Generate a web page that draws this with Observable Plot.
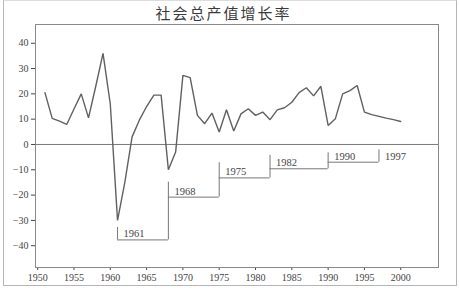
<!DOCTYPE html>
<html><head><meta charset="utf-8">
<script src="https://cdn.jsdelivr.net/npm/d3@7"></script>
<script src="https://cdn.jsdelivr.net/npm/@observablehq/plot@0.6"></script>
<style>
body{margin:0;background:#fff;}
#fig{position:relative;width:459px;height:290px;overflow:hidden;background:#fff;}
#border{position:absolute;left:3px;top:0px;width:454px;height:286px;border:1px solid #b5b5b5;border-top-color:#ddd;box-sizing:border-box;pointer-events:none;}
#title{height:22px;padding-top:4px;padding-right:12px;box-sizing:border-box;text-align:center;font:400 15px "Noto Sans CJK SC";line-height:18px;letter-spacing:2px;color:#3a3a3a;}
#chart svg{display:block;}
</style></head>
<body><div id="fig"><div id="title">社会总产值增长率</div><div id="chart"></div><div id="border"></div></div>
<script>
// Annual growth rate of total social product (%)
const years = [1951,1952,1953,1954,1955,1956,1957,1958,1959,1960,
  1961,1962,1963,1964,1965,1966,1967,1968,1969,1970,
  1971,1972,1973,1974,1975,1976,1977,1978,1979,1980,
  1981,1982,1983,1984,1985,1986,1987,1988,1989,1990,
  1991,1992,1993,1994,1995,1996,1997,1998,1999,2000];
const growth = [20.5,10.3,9.2,7.9,14,20,10.5,23,36,16,
  -30,-15,3,9.6,15,19.5,19.5,-10,-3,27.3,
  26.4,11.5,8.2,12.4,4.9,13.7,5.3,12.1,14.1,11.5,
  12.8,9.8,13.7,14.5,16.7,20.5,22.4,19.2,23,7.5,
  10.2,20,21.3,23.3,12.8,11.8,11.1,10.4,9.8,9.1];

// Cycle annotation (step line below the curve)
const cycleYears = [1961,1968,1975,1982,1990,1997];
const cycleLevel = [-37.7,-20.8,-13.2,-9.6,-7.0,-7.0];   // horizontal level starting at each year
const cycleTop   = [-32.8,-14.9,-7.2,-4.3,-3.3,-2.1];    // top of the vertical tick at each year
const cycleLabels = ["1961","1968","1975","1982","1990","1997"];

const yTicks = [-40,-30,-20,-10,0,10,20,30,40];
const xTicks = [1950,1955,1960,1965,1970,1975,1980,1985,1990,1995,2000];

const series = years.map((y,i)=>({year:y, value:growth[i]}));
const horiz = cycleYears.slice(0,-1).map((y,i)=>({x1:y, x2:cycleYears[i+1], y:cycleLevel[i]}));
const vert = cycleYears.map((y,i)=>({x:y, y1:cycleTop[i], y2: i===0 ? cycleLevel[0] : cycleLevel[i-1]}));
const labs = cycleYears.map((y,i)=>({x:y, y: i===cycleYears.length-1 ? cycleLevel[i-1] : cycleLevel[i], t:cycleLabels[i]}));

const chart = Plot.plot({
  width: 459, height: 268,
  marginLeft: 35, marginRight: 21, marginTop: 2, marginBottom: 23,
  style: {fontFamily: "Liberation Serif", fontSize: "10px", color: "#444", background: "transparent"},
  x: {domain: [1949.7, 2005.2], ticks: xTicks, tickFormat: "d", tickSize: 3, tickPadding: 3, label: null},
  y: {domain: [-48.6, 47.4], ticks: yTicks, tickSize: 4, tickPadding: 3, label: null},
  marks: [
    Plot.frame({stroke: "#8a8a8a"}),
    Plot.ruleY([0], {stroke: "#7a7a7a", strokeWidth: 1}),
    Plot.ruleY(horiz, {y: "y", x1: "x1", x2: "x2", stroke: "#777", strokeWidth: 1}),
    Plot.ruleX(vert, {x: "x", y1: "y1", y2: "y2", stroke: "#777", strokeWidth: 1}),
    Plot.text(labs, {x: "x", y: "y", text: "t", textAnchor: "start", dx: 6, dy: -6, fontSize: 10.5, fill: "#444"}),
    Plot.line(series, {x: "year", y: "value", stroke: "#606060", strokeWidth: 1.4, strokeLinejoin: "miter"})
  ]
});
document.getElementById("chart").appendChild(chart);
</script>
</body></html>
